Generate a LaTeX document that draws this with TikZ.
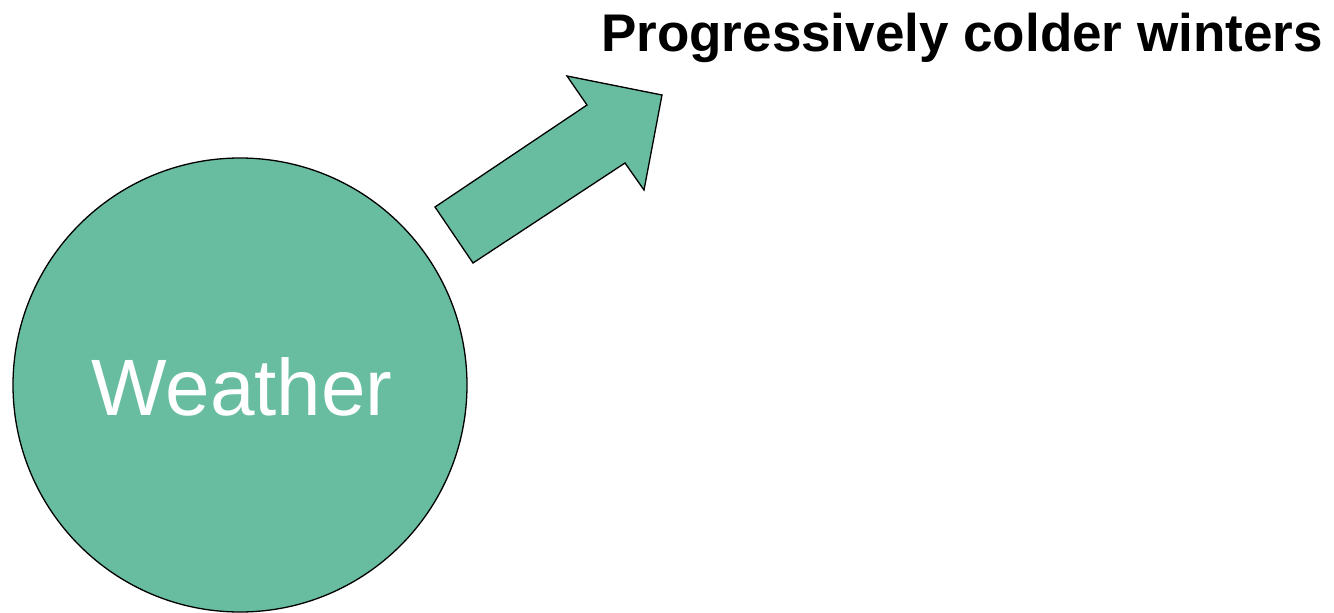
\documentclass[tikz,border=0pt]{standalone}
\usepackage{fontspec}
\setmainfont{Liberation Sans}
\definecolor{teal1}{HTML}{68BDA0}
\begin{document}
\begin{tikzpicture}[x=1pt,y=-1pt,
  shapefill/.style={fill=teal1,draw=black,line width=1.3pt,line join=miter}]
\useasboundingbox (0,0) rectangle (1334,613);
\node[circle,shapefill,minimum size=454pt,inner sep=0pt] (weather) at (240,385) {};
\node[text=white,font=\fontsize{80}{80}\selectfont,anchor=base] (wlabel) at (242,415) {Weather};
\draw[shapefill] (435,207) -- (473,263) -- (625,163) -- (644,190) -- (662,95) -- (567,76) -- (587,105) -- cycle;
\node[font=\bfseries\fontsize{53}{53}\selectfont,anchor=base west,inner sep=0pt] (title) at (601,51) {Progressively colder winters};
\end{tikzpicture}
\end{document}
